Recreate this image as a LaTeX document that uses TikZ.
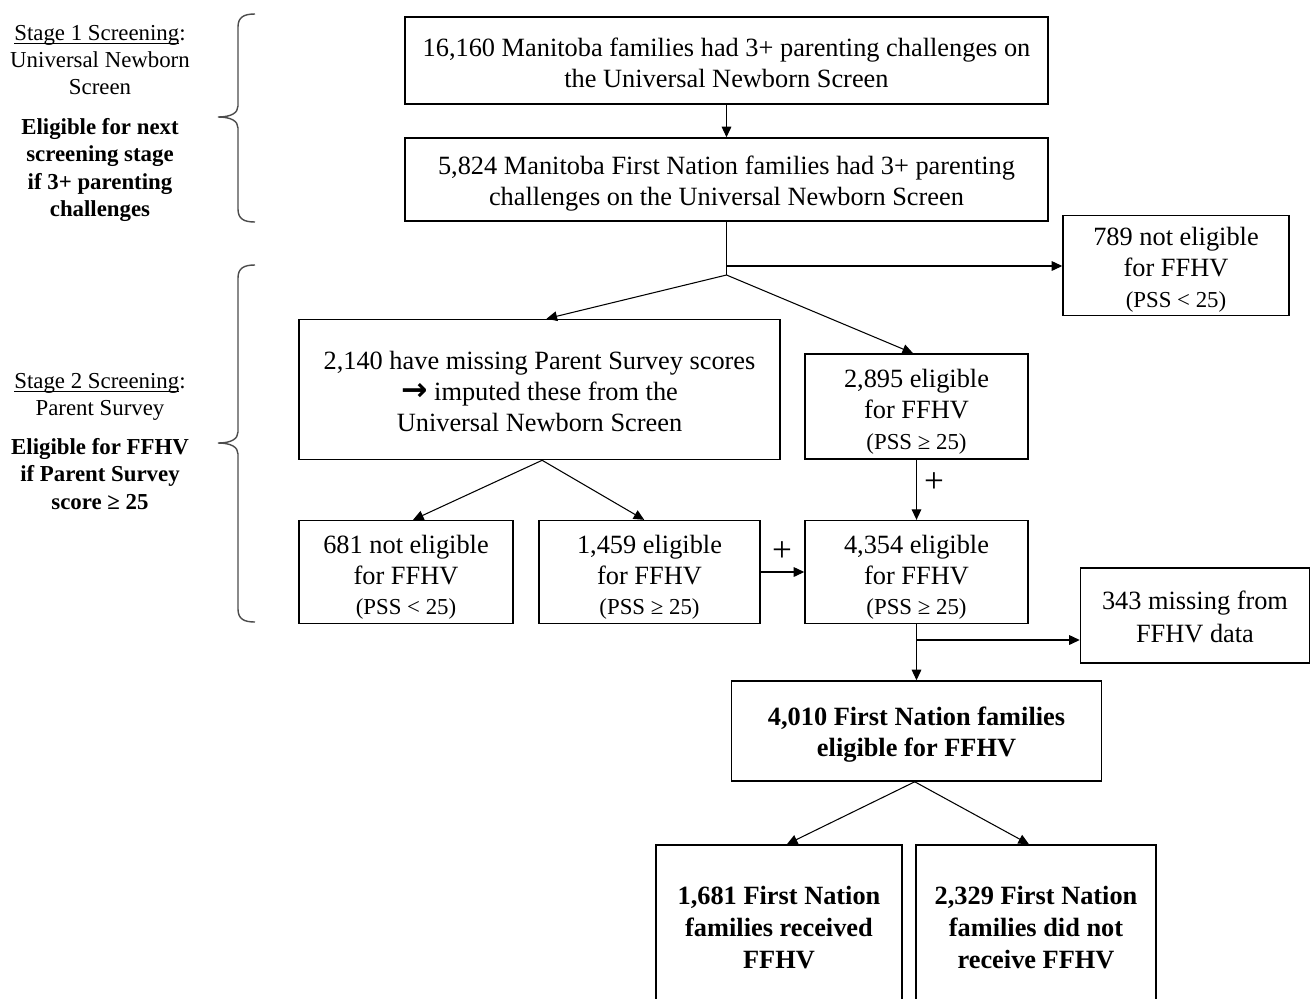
\documentclass[tikz,border=0pt]{standalone}
\usepackage{fontspec}
\setmainfont{Liberation Serif}
\newfontfamily\arrowfont{DejaVu Sans}
\usetikzlibrary{arrows.meta}
\newcommand\myul[1]{\setbox0\hbox{#1}\rlap{\rule[-1.6pt]{\wd0}{0.5pt}}\box0}
\begin{document}
\begin{tikzpicture}[x=0.02cm,y=-0.02cm,
 box/.style={draw, line width=0.9pt, align=center, inner sep=2pt, font=\fontsize{15}{17.6}\selectfont},
 arr/.style={-{Triangle[length=6pt,width=5.5pt]}, line width=0.6pt},
 ln/.style={line width=0.6pt},
 side/.style={align=center, font=\fontsize{13}{15.3}\selectfont},
 plus/.style={font=\fontsize{20}{20}\selectfont, inner sep=0pt},
 brc/.style={line width=0.8pt, draw=black!70}]
\useasboundingbox (0,0) rectangle (1311,998);
\clip (0,0) rectangle (1311,998);

% boxes
\node[box, minimum width=12.86cm, minimum height=1.74cm] (A) at (726.5,60.5)
  {\rule{0pt}{13.5pt}16,160 Manitoba families had 3+ parenting challenges on\\the Universal Newborn Screen};
\node[box, minimum width=12.86cm, minimum height=1.66cm] (B) at (726.5,179.5)
  {\rule{0pt}{15pt}5,824 Manitoba First Nation families had 3+ parenting\\challenges on the Universal Newborn Screen};
\node[box, minimum width=4.52cm, minimum height=1.94cm] (C) at (1176,265.5)
  {\rule{0pt}{15pt}789 not eligible\\for FFHV\\{\fontsize{13}{15}\selectfont (PSS < 25)}};
\node[box, minimum width=9.62cm, minimum height=2.8cm] (D) at (539.5,389.5)
  {\rule{0pt}{13pt}2,140 have missing Parent Survey scores\\{\arrowfont\bfseries\fontsize{18}{18}\selectfont →} imputed these from the\\Universal Newborn Screen};
\node[box, minimum width=4.46cm, minimum height=2.1cm] (E) at (916.5,406.5)
  {\rule{0pt}{16.5pt}2,895 eligible\\for FFHV\\{\fontsize{13}{15}\selectfont (PSS ≥ 25)}};
\node[box, minimum width=4.28cm, minimum height=2.04cm] (F) at (406,572)
  {\rule{0pt}{16.5pt}681 not eligible\\for FFHV\\{\fontsize{13}{15}\selectfont (PSS < 25)}};
\node[box, minimum width=4.42cm, minimum height=2.04cm] (G) at (649.5,572)
  {\rule{0pt}{16.5pt}1,459 eligible\\for FFHV\\{\fontsize{13}{15}\selectfont (PSS ≥ 25)}};
\node[box, minimum width=4.46cm, minimum height=2.04cm] (H) at (916.5,572)
  {\rule{0pt}{16.5pt}4,354 eligible\\for FFHV\\{\fontsize{13}{15}\selectfont (PSS ≥ 25)}};
\node[box, minimum width=4.58cm, minimum height=1.9cm, font=\fontsize{15}{19}\selectfont] (I) at (1195,615.5)
  {\rule{0pt}{12pt}343 missing from\\FFHV data};
\node[box, minimum width=7.4cm, minimum height=2.0cm, font=\bfseries\fontsize{15}{17.6}\selectfont] (J) at (916.5,731)
  {\rule{0pt}{15pt}4,010 First Nation families\\eligible for FFHV};
\node[box, minimum width=4.92cm, minimum height=3.3cm, font=\bfseries\fontsize{15}{18}\selectfont] (K) at (779,927.5)
  {1,681 First Nation\\families received\\FFHV};
\node[box, minimum width=4.8cm, minimum height=3.3cm, font=\bfseries\fontsize{15}{18}\selectfont] (L) at (1036,927.5)
  {2,329 First Nation\\families did not\\receive FFHV};

% side texts
\node[side] (S1) at (100,60) {\myul{Stage 1 Screening}:\\Universal Newborn\\Screen};
\node[side, font=\bfseries\fontsize{13}{15.5}\selectfont] (S1b) at (100,170) {Eligible for next\\screening stage\\if 3+ parenting\\challenges};
\node[side] (S2) at (100,397) {\myul{Stage 2 Screening}:\\Parent Survey};
\node[side, font=\bfseries\fontsize{13}{15.5}\selectfont] (S2b) at (100,474) {Eligible for FFHV\\if Parent Survey\\score ≥ 25};

% braces
\draw[brc] (255,14) .. controls (244,14) and (238,17) .. (238,27) -- (238,106)
  .. controls (238,113) and (231,117) .. (218,117)
  .. controls (231,117) and (238,121) .. (238,128) -- (238,209)
  .. controls (238,219) and (244,222) .. (255,222);
\draw[brc] (255,265) .. controls (244,265) and (238,268) .. (238,278) -- (238,432)
  .. controls (238,439) and (231,443) .. (218,443)
  .. controls (231,443) and (238,447) .. (238,454) -- (238,609)
  .. controls (238,619) and (244,622) .. (255,622);

% connectors
\draw[arr] (A.south) -- (B.north);
\coordinate (j1) at (B.south |- 0,275);
\coordinate (j2) at (B.south |- 0,266);
\draw[ln] (B.south) -- (j1);
\draw[arr] (j2) -- (j2 -| C.west);
\draw[arr] (j1) -- ([xshift=4pt]D.north);
\draw[arr] (j1) -- ([xshift=-2pt]E.north);
\draw[arr] ([xshift=1.5pt]D.south) -- ([xshift=4pt]F.north);
\draw[arr] ([xshift=1.5pt]D.south) -- ([xshift=-3pt]G.north);
\draw[arr] (E.south) -- (H.north);
\draw[arr] (G.east) -- (H.west);
\node[plus] (p1) at (934,483) {+};
\node[plus] (p2) at (782,552) {+};
\coordinate (j3) at (H.south |- 0,640);
\draw[arr] (H.south) -- (J.north);
\draw[arr] (j3) -- (j3 -| I.west);
\draw[arr] ([xshift=-1pt]J.south) -- ([xshift=4.5pt]K.north);
\draw[arr] ([xshift=-1pt]J.south) -- ([xshift=-4pt]L.north);
\end{tikzpicture}
\end{document}
